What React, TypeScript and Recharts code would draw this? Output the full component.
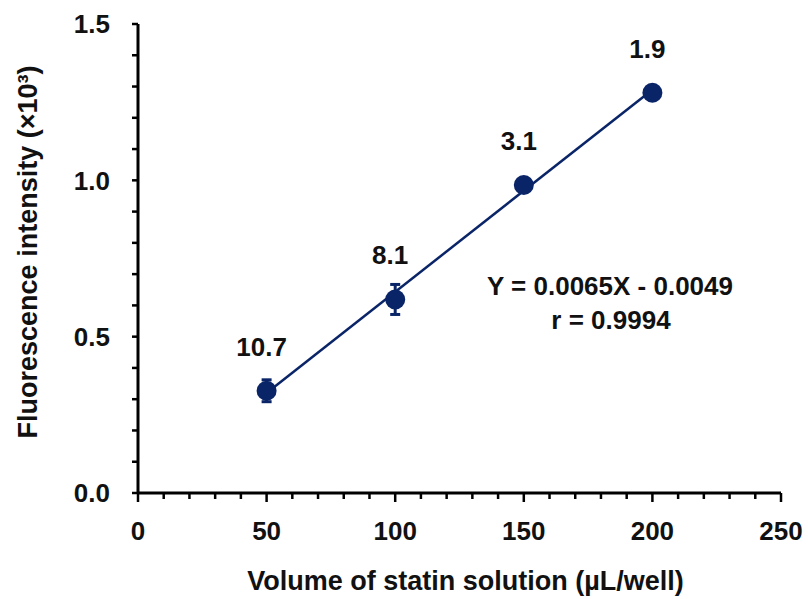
import React from 'react';
import {
  ComposedChart, ErrorBar, Label, ReferenceLine, Scatter, XAxis, YAxis,
} from 'recharts';

const volumes = [50, 100, 150, 200];
const intensity = [0.327, 0.619, 0.985, 1.28];
const errors = [0.035, 0.048, 0.02, 0.02];
const pointLabels = ['10.7', '8.1', '3.1', '1.9'];

const fitX = [50, 200];
const fitY = [0.32, 1.29];

const xTicks = [0, 10, 20, 30, 40, 50, 60, 70, 80, 90, 100, 110, 120, 130, 140, 150, 160, 170, 180, 190, 200, 210, 220, 230, 240, 250];
const yTicks = [0, 0.1, 0.2, 0.3, 0.4, 0.5, 0.6, 0.7, 0.8, 0.9, 1.0, 1.1, 1.2, 1.3, 1.4, 1.5];

const navy = '#0a2468';
const font = '"Liberation Sans", Arial, sans-serif';

const points = volumes.map((v, i) => ({
  x: v,
  y: intensity[i],
  err: errors[i],
  label: pointLabels[i],
}));

const XTick = (props: any) => {
  const { x, y, payload } = props;
  const major = payload.value % 50 === 0;
  return (
    <g>
      <line x1={x} y1={y} x2={x} y2={y + (major ? 9 : 6)} stroke="#000" strokeWidth={2.5} />
      {major && (
        <text x={x} y={y + 47} textAnchor="middle" fontFamily={font} fontWeight="bold" fontSize={26} fill="#111">
          {payload.value}
        </text>
      )}
    </g>
  );
};

const YTick = (props: any) => {
  const { x, y, payload } = props;
  const v = payload.value;
  const major = Math.abs(v * 2 - Math.round(v * 2)) < 1e-6;
  return (
    <g>
      <line x1={x} y1={y} x2={x - 6} y2={y} stroke="#000" strokeWidth={2.5} />
      {major && (
        <text x={x - 28} y={y} dy="0.36em" textAnchor="end" fontFamily={font} fontWeight="bold" fontSize={26} fill="#111">
          {v.toFixed(1)}
        </text>
      )}
    </g>
  );
};

const Dot = (props: any) => {
  const { cx, cy, payload } = props;
  return (
    <g>
      <circle cx={cx} cy={cy} r={10} fill={navy} />
      <text x={cx - 5} y={cy - 35} textAnchor="middle" fontFamily={font} fontWeight="bold" fontSize={26} fill="#111">
        {payload.label}
      </text>
    </g>
  );
};

const YTitle = () => (
  <text
    x={28}
    y={252}
    transform="rotate(-90 28 252)"
    textAnchor="middle"
    dominantBaseline="central"
    fontFamily={font}
    fontWeight="bold"
    fontSize={27}
    fill="#111"
  >
    Fluorescence intensity (×10³)
  </text>
);

export default function App() {
  return (
    <div style={{ position: 'absolute', left: 0, top: 0, background: '#fff' }}>
      <ComposedChart
        width={808}
        height={599}
        data={points}
        margin={{ top: 24, right: 27, bottom: 0, left: 0 }}
      >
        <XAxis
          type="number"
          dataKey="x"
          domain={[0, 250]}
          ticks={xTicks}
          interval={0}
          height={106}
          tickSize={0}
          tickMargin={0}
          tickLine={false}
          tick={<XTick />}
          axisLine={{ stroke: '#000', strokeWidth: 3 }}
        >
          <Label
            value="Volume of statin solution (µL/well)"
            position="insideBottom"
            offset={9}
            dx={6}
            style={{ fontFamily: font, fontWeight: 'bold', fontSize: 27, fill: '#111' }}
          />
        </XAxis>
        <YAxis
          type="number"
          dataKey="y"
          domain={[0, 1.5]}
          ticks={yTicks}
          interval={0}
          width={138}
          tickSize={0}
          tickMargin={0}
          tickLine={false}
          tick={<YTick />}
          axisLine={{ stroke: '#000', strokeWidth: 3 }}
        >
          <Label content={<YTitle />} />
        </YAxis>
        <ReferenceLine
          segment={[{ x: fitX[0], y: fitY[0] }, { x: fitX[1], y: fitY[1] }]}
          stroke={navy}
          strokeWidth={2.5}
        />
        <Scatter data={points} dataKey="y" shape={<Dot />} isAnimationActive={false}>
          <ErrorBar dataKey="err" direction="y" width={5} stroke={navy} strokeWidth={3} />
        </Scatter>
        <text x={610} y={295} textAnchor="middle" fontFamily={font} fontWeight="bold" fontSize={26} fill="#111">
          Y = 0.0065X - 0.0049
        </text>
        <text x={611} y={329} textAnchor="middle" fontFamily={font} fontWeight="bold" fontSize={26} fill="#111">
          r = 0.9994
        </text>
      </ComposedChart>
    </div>
  );
}
